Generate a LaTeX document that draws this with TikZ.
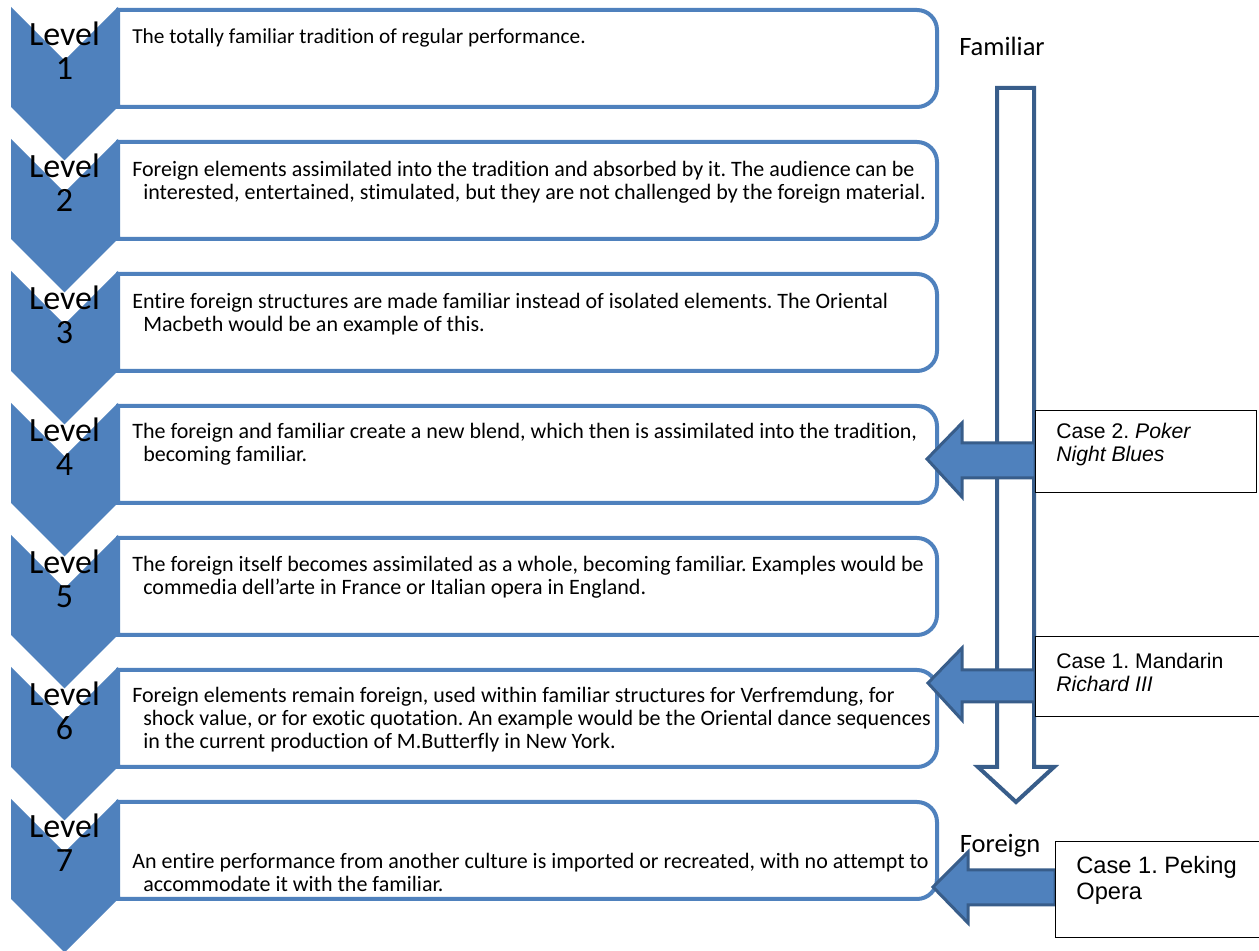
\documentclass[tikz,border=0pt]{standalone}
\usepackage{fontspec}
\setmainfont{Carlito}[Ligatures=NoCommon]
\newfontfamily\casefont{Liberation Sans}
\usepackage{xcolor}
\usepackage{tikz}
\usetikzlibrary{positioning, arrows.meta}
\definecolor{chevblue}{HTML}{4F81BD}
\definecolor{darkblue}{HTML}{385D8A}
\frenchspacing

\begin{document}
\begin{tikzpicture}[
    x=0.6pt, y=-0.6pt,
    chevron/.style={fill=chevblue},
    levelbox/.style={draw=chevblue, line width=2.4pt, fill=white},
    lvl/.style={align=center, inner sep=0pt, font=\fontsize{20.4}{20.4}\selectfont},
    desc/.style={anchor=west, align=left, inner sep=0pt, font=\fontsize{13.2}{13.8}\selectfont},
    side/.style={inner sep=0pt, font=\fontsize{15.9}{16}\selectfont},
    hollow/.style={draw=darkblue, line width=2.4pt, fill=white, line join=miter},
    push/.style={draw=darkblue, line width=1.8pt, fill=chevblue, line join=miter},
    casebox/.style={draw, line width=0.6pt, fill=white},
    casetext/.style={anchor=west, align=left, inner sep=0pt, font=\casefont\fontsize{12.7}{13.8}\selectfont}
]
\useasboundingbox (0,0) rectangle (1259,951);

% description boxes
\draw[levelbox] (118,10) -- (917,10) arc[start angle=90, end angle=0, radius=12pt] -- (937,87) arc[start angle=0, end angle=-90, radius=12pt] -- (118,107) -- cycle;
\draw[levelbox] (118,142) -- (917,142) arc[start angle=90, end angle=0, radius=12pt] -- (937,219) arc[start angle=0, end angle=-90, radius=12pt] -- (118,239) -- cycle;
\draw[levelbox] (118,274) -- (917,274) arc[start angle=90, end angle=0, radius=12pt] -- (937,351) arc[start angle=0, end angle=-90, radius=12pt] -- (118,371) -- cycle;
\draw[levelbox] (118,406) -- (917,406) arc[start angle=90, end angle=0, radius=12pt] -- (937,483) arc[start angle=0, end angle=-90, radius=12pt] -- (118,503) -- cycle;
\draw[levelbox] (118,538) -- (917,538) arc[start angle=90, end angle=0, radius=12pt] -- (937,615) arc[start angle=0, end angle=-90, radius=12pt] -- (118,635) -- cycle;
\draw[levelbox] (118,670) -- (917,670) arc[start angle=90, end angle=0, radius=12pt] -- (937,747) arc[start angle=0, end angle=-90, radius=12pt] -- (118,767) -- cycle;
\draw[levelbox] (118,802) -- (917,802) arc[start angle=90, end angle=0, radius=12pt] -- (937,879) arc[start angle=0, end angle=-90, radius=12pt] -- (118,899) -- cycle;

% chevrons
\fill[chevron] (11,7) -- (64.5,60.5) -- (118,7) -- (118,107) -- (64.5,160.5) -- (11,107) -- cycle;
\fill[chevron] (11,139) -- (64.5,192.5) -- (118,139) -- (118,239) -- (64.5,292.5) -- (11,239) -- cycle;
\fill[chevron] (11,271) -- (64.5,324.5) -- (118,271) -- (118,371) -- (64.5,424.5) -- (11,371) -- cycle;
\fill[chevron] (11,403) -- (64.5,456.5) -- (118,403) -- (118,503) -- (64.5,556.5) -- (11,503) -- cycle;
\fill[chevron] (11,535) -- (64.5,588.5) -- (118,535) -- (118,635) -- (64.5,688.5) -- (11,635) -- cycle;
\fill[chevron] (11,667) -- (64.5,720.5) -- (118,667) -- (118,767) -- (64.5,820.5) -- (11,767) -- cycle;
\fill[chevron] (11,799) -- (64.5,852.5) -- (118,799) -- (118,899) -- (64.5,952.5) -- (11,899) -- cycle;

\node[lvl] (lv1) at (64.5,51) {Level\\1};
\node[lvl] (lv2) at (64.5,183) {Level\\2};
\node[lvl] (lv3) at (64.5,315) {Level\\3};
\node[lvl] (lv4) at (64.5,447) {Level\\4};
\node[lvl] (lv5) at (64.5,579) {Level\\5};
\node[lvl] (lv6) at (64.5,711) {Level\\6};
\node[lvl] (lv7) at (64.5,843) {Level\\7};

\node[desc, font=\fontsize{12.8}{13.8}\selectfont] (d1) at (132,38) {The totally familiar tradition of regular performance.};
\node[desc] (d2) at (132,182) {Foreign elements assimilated into the tradition and absorbed by it. The audience can be\\\hspace*{6.6pt}interested, entertained, stimulated, but they are not challenged by the foreign material.};
\node[desc] (d3) at (132,314) {Entire foreign structures are made familiar instead of isolated elements. The Oriental\\\hspace*{6.6pt}Macbeth would be an example of this.};
\node[desc] (d4) at (132,444) {The foreign and familiar create a new blend, which then is assimilated into the tradition,\\\hspace*{6.6pt}becoming familiar.};
\node[desc] (d5) at (132,577) {The foreign itself becomes assimilated as a whole, becoming familiar. Examples would be\\\hspace*{6.6pt}commedia dell’arte in France or Italian opera in England.};
\node[desc] (d6) at (132,720) {Foreign elements remain foreign, used within familiar structures for Verfremdung, for\\\hspace*{6.6pt}shock value, or for exotic quotation. An example would be the Oriental dance sequences\\\hspace*{6.6pt}in the current production of M.Butterfly in New York.};
\node[desc] (d7) at (132,872) {An entire performance from another culture is imported or recreated, with no attempt to\\\hspace*{6.6pt}accommodate it with the familiar.};

% familiar -> foreign scale
\node[side] (familiar) at (1002,46) {Familiar};
\node[side] (foreign) at (1000,846) {Foreign};
\draw[hollow] (997,88) -- (1034,88) -- (1034,767) -- (1054,767) -- (1016,802) -- (978,767) -- (997,767) -- cycle;

% cases
\draw[push] (1035,443) -- (962,443) -- (962,423) -- (927,459) -- (962,497) -- (962,478) -- (1035,478) -- cycle;
\draw[push] (1035,670) -- (962,670) -- (962,648) -- (928,683) -- (962,720) -- (962,702) -- (1035,702) -- cycle;
\draw[push] (1055,870) -- (968,870) -- (968,852) -- (933,887) -- (968,923) -- (968,905) -- (1055,905) -- cycle;

\node[casebox, minimum width=132.6pt, minimum height=49.2pt] (case2) at (1145.5,452) {};
\node[casetext] (case2txt) at (1056,445) {Case 2. \textit{Poker}\\\textit{Night Blues}};
\node[casebox, minimum width=138pt, minimum height=48pt] (case1m) at (1150,677) {};
\node[casetext] (case1mtxt) at (1056,672) {Case 1. Mandarin\\\textit{Richard III}};
\node[casebox, minimum width=126pt, minimum height=57.6pt] (case1p) at (1160,890) {};
\node[casetext, font=\casefont\fontsize{14.2}{15.6}\selectfont] (case1ptxt) at (1076,880) {Case 1. Peking\\Opera};

\end{tikzpicture}
\end{document}
